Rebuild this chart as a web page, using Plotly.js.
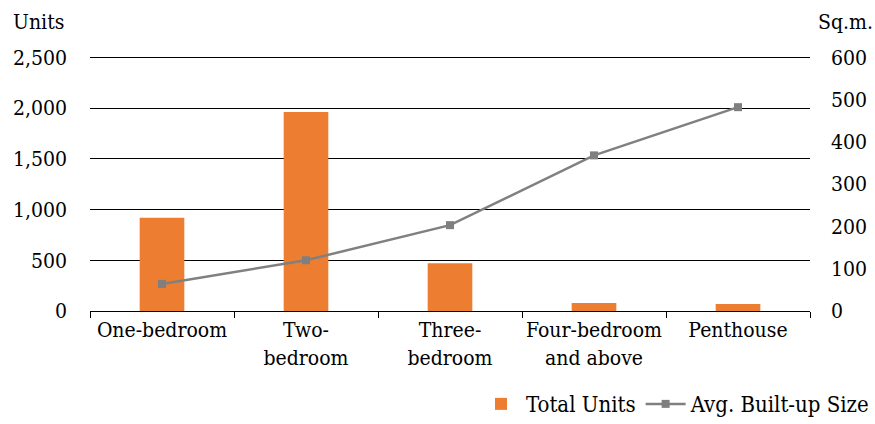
<!DOCTYPE html>
<html>
<head>
<meta charset="utf-8">
<script src="https://cdn.plot.ly/plotly-3.0.1.min.js"></script>
<style>
  html, body { margin: 0; padding: 0; background: #fff; }
  #chart { width: 875px; height: 424px; }
</style>
</head>
<body>
<div id="chart"></div>
<script>
// Unit types shown along the bottom axis
const categories = [
  "One-bedroom",
  "Two-<br>bedroom",
  "Three-<br>bedroom",
  "Four-bedroom<br>and above",
  "Penthouse"
];

// Number of units per type (left axis)
const totalUnits = [920, 1960, 470, 80, 70];

// Average built-up size in sq.m. (right axis)
const avgSize = [64, 120, 203, 368, 482];

// Left-axis tick values
const unitTicks = [0, 500, 1000, 1500, 2000, 2500];
// Right-axis tick values
const sizeTicks = [0, 100, 200, 300, 400, 500, 600];

// A little headroom above the top tick so its gridline is drawn;
// both axes share the same ratio so 2,500 and 600 stay level.
const HEAD = 1.005;

const FONT = "DejaVu Serif Condensed, DejaVu Serif, serif";
const textFont = { family: FONT, size: 21, color: "#000" };
const legendFont = { family: FONT, size: 22, color: "#000" };

const bars = {
  type: "bar",
  name: "Total Units",
  x: categories,
  y: totalUnits,
  marker: { color: "#ED7D31" },
  yaxis: "y"
};

const line = {
  type: "scatter",
  mode: "lines+markers",
  name: "Avg. Built-up Size",
  x: categories,
  y: avgSize,
  yaxis: "y2",
  line: { color: "#808080", width: 2.5 },
  marker: { symbol: "square", size: 8, color: "#7F7F7F" }
};

const layout = {
  width: 875,
  height: 424,
  margin: { l: 90, r: 65, t: 56, b: 113, autoexpand: false },
  paper_bgcolor: "#fff",
  plot_bgcolor: "#fff",
  font: textFont,
  bargap: 0.69,
  showlegend: true,
  legend: {
    orientation: "h",
    xref: "container",
    x: 1, xanchor: "right",
    y: -0.365, yanchor: "middle",
    font: legendFont,
    itemwidth: 40,
    traceorder: "normal"
  },
  xaxis: {
    type: "category",
    showgrid: false,
    showline: true,
    linecolor: "#000",
    linewidth: 1,
    ticks: "outside",
    tickson: "boundaries",
    ticklen: 6,
    tickcolor: "#000",
    tickangle: 0,
    tickfont: textFont,
    fixedrange: true
  },
  yaxis: {
    range: [0, unitTicks[unitTicks.length - 1] * HEAD],
    tickvals: unitTicks,
    tickformat: ",",
    showgrid: true,
    gridcolor: "#000",
    gridwidth: 1,
    zeroline: false,
    showline: false,
    ticks: "",
    ticklabelstandoff: 22,
    tickfont: textFont
  },
  yaxis2: {
    overlaying: "y",
    side: "right",
    range: [0, sizeTicks[sizeTicks.length - 1] * HEAD],
    tickvals: sizeTicks,
    showgrid: false,
    zeroline: false,
    showline: false,
    ticks: "",
    ticklabelstandoff: 20,
    tickfont: textFont
  },
  annotations: [
    {
      text: "Units", xref: "paper", yref: "paper",
      x: -0.11, y: 1.08, xanchor: "left", yanchor: "bottom",
      showarrow: false, font: textFont
    },
    {
      text: "Sq.m.", xref: "paper", yref: "paper",
      x: 1.09, y: 1.08, xanchor: "right", yanchor: "bottom",
      showarrow: false, font: textFont
    }
  ]
};

Plotly.newPlot("chart", [bars, line], layout, { displayModeBar: false, staticPlot: true });
</script>
</body>
</html>
